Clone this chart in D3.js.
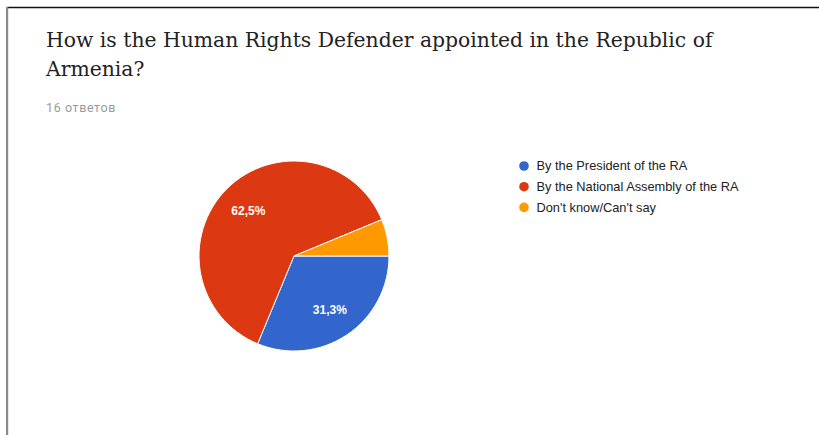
<!DOCTYPE html>
<html>
<head>
<meta charset="utf-8">
<script src="https://cdn.jsdelivr.net/npm/d3@7"></script>
<style>
  html, body { margin: 0; padding: 0; background: #fff; }
  svg { display: block; }
</style>
</head>
<body>
<svg id="chart" width="819" height="435"></svg>
<script>
// Survey question, response count and answer breakdown
const titleLines = ["How is the Human Rights Defender appointed in the Republic of", "Armenia?"];
const responsesLabel = "16 ответов";
const categories = ["By the President of the RA", "By the National Assembly of the RA", "Don't know/Can't say"];
const counts = [5, 10, 1];
const colors = ["#3366cc", "#dc3912", "#ff9900"];

const svg = d3.select("#chart");
const W = 819, H = 435;

// Frame of the card
svg.append("line").attr("x1", 7).attr("x2", W).attr("y1", 7.5).attr("y2", 7.5)
  .attr("stroke", "#111").attr("stroke-width", 1.5);
svg.append("rect").attr("x", 6).attr("y", 7).attr("width", 2.2).attr("height", H - 7)
  .attr("fill", "#8a8a8a");

// Title, fitted to its line width
const titleG = svg.append("g").attr("fill", "#222")
  .style("font-family", "'DejaVu Serif', 'Liberation Serif', serif");
const t1 = titleG.append("text").attr("x", 46).attr("y", 47).style("font-size", "22px").text(titleLines[0]);
const w1 = t1.node().getComputedTextLength();
const titleSize = 22 * 667 / w1;
t1.style("font-size", titleSize + "px");
titleG.append("text").attr("x", 46).attr("y", 76).style("font-size", titleSize + "px").text(titleLines[1]);

svg.append("text").attr("x", 46).attr("y", 112)
  .style("font-family", "Roboto, 'Liberation Sans', sans-serif").style("font-size", "12.5px")
  .style("letter-spacing", "0.6px")
  .attr("fill", "#9a9a9a").text(responsesLabel);

// Pie
const cx = 294, cy = 256, r = 95;
const total = d3.sum(counts);
const data = categories.map((c, i) => ({ name: c, value: counts[i], color: colors[i] }));
const pie = d3.pie().value(d => d.value).sort(null)
  .startAngle(Math.PI / 2).endAngle(Math.PI / 2 + 2 * Math.PI);
const arc = d3.arc().innerRadius(0).outerRadius(r);
const labelArc = d3.arc().innerRadius(r * 0.68).outerRadius(r * 0.68);
const arcs = pie(data);

const pg = svg.append("g").attr("transform", `translate(${cx},${cy})`);
pg.selectAll("path").data(arcs).join("path")
  .attr("d", arc).attr("fill", d => d.data.color)
  .attr("stroke", "#fff").attr("stroke-width", 1);

const fmt = v => (v / total * 100).toFixed(1).replace(".", ",") + "%";
pg.selectAll("text.pct").data(arcs.filter(d => d.endAngle - d.startAngle > 0.5)).join("text")
  .attr("class", "pct")
  .attr("transform", d => `translate(${labelArc.centroid(d)})`)
  .attr("text-anchor", "middle").attr("dy", "0.35em")
  .style("font-family", "'Liberation Sans', Arial, sans-serif").style("font-size", "12px")
  .style("font-weight", "bold").attr("fill", "#fff")
  .text(d => fmt(d.data.value));

// Legend
const lg = svg.append("g").attr("transform", "translate(524,166)");
const rows = lg.selectAll("g").data(data).join("g")
  .attr("transform", (d, i) => `translate(0,${i * 20.7})`);
rows.append("circle").attr("r", 4.8).attr("fill", d => d.color);
rows.append("text").attr("x", 12.5).attr("dy", "0.35em")
  .style("font-family", "'Liberation Sans', Arial, sans-serif").style("font-size", "12.8px")
  .attr("fill", "#222").text(d => d.name);
</script>
</body>
</html>
